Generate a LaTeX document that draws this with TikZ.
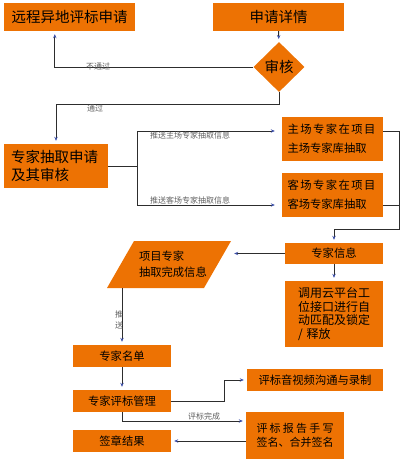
\documentclass[tikz,border=0pt]{standalone}
\usepackage{fontspec}
\newfontfamily\cjk{Noto Sans CJK SC}
\usetikzlibrary{shapes.geometric,arrows.meta,calc}
\definecolor{org}{RGB}{237,114,3}
\definecolor{tipblue}{RGB}{60,80,170}
\definecolor{ln}{RGB}{45,45,45}
\definecolor{lbl}{RGB}{95,95,95}
\begin{document}
\begin{tikzpicture}[x=1pt,y=-1pt,
 box/.style={fill=org,inner sep=0pt,font=\cjk\fontsize{11.3}{14}\selectfont,text=black},
 bigbox/.style={box,font=\cjk\fontsize{14.5}{18}\selectfont},
 conn/.style={draw=ln,line width=0.9pt},
 arr/.style={conn,-{Stealth[length=4pt,width=3.4pt,color=tipblue]},shorten >=3pt},
 lab/.style={font=\cjk\fontsize{8}{10}\selectfont,text=lbl,inner sep=0pt}]
\useasboundingbox (0,0) rectangle (404,462);
% parallelogram body
\fill[org] (134,241) -- (231,241) -- (204,288) -- (107,288) -- cycle;
% nodes
\node[bigbox,minimum width=131pt,minimum height=28pt] (A) at (69.5,17) {远程异地评标申请};
\node[bigbox,minimum width=131pt,minimum height=28pt] (B) at (278.5,17) {申请详情};
\node[bigbox,shape=diamond,minimum width=51pt,minimum height=50pt] (C) at (279,67) {审核};
\node[bigbox,minimum width=104pt,minimum height=44pt,text width=90pt,align=left] (D) at (56,166) {专家抽取申请\\及其审核};
\node[box,minimum width=101pt,minimum height=44pt,text width=90pt,align=left,font=\cjk\fontsize{11.3}{19}\selectfont] (E) at (332.5,139)
 {\makebox[88pt][s]{主\hfill 场\hfill 专\hfill 家\hfill 在\hfill 项\hfill 目}\\主场专家库抽取};
\node[box,minimum width=101pt,minimum height=44pt,text width=90pt,align=left,font=\cjk\fontsize{11.3}{19}\selectfont] (F) at (332.5,195)
 {\makebox[88pt][s]{客\hfill 场\hfill 专\hfill 家\hfill 在\hfill 项\hfill 目}\\客场专家库抽取};
\node[box,minimum width=98pt,minimum height=21pt] (G) at (334,253.5) {专家信息};
\node[box,minimum width=98pt,minimum height=66pt,text width=72pt,align=left,font=\cjk\fontsize{12}{13.5}\selectfont] (N) at (334,314)
 {调用云平台工\\位接口进行自\\动匹配及锁定\\/ 释放};
\node[inner sep=0pt,minimum width=116pt,minimum height=47pt,text width=68pt,align=left,font=\cjk\fontsize{11.3}{16}\selectfont] (P) at (173,264.5)
 {项目专家\\抽取完成信息};
\node[box,minimum width=98pt,minimum height=22pt] (I) at (122,356) {专家名单};
\node[box,minimum width=98pt,minimum height=22pt] (J) at (122,401) {专家评标管理};
\node[box,minimum width=98pt,minimum height=22pt] (K) at (122,441) {签章结果};
\node[box,minimum width=136pt,minimum height=22pt] (L) at (315,380) {评标音视频沟通与录制};
\node[box,minimum width=98pt,minimum height=47pt,text width=77pt,align=left,font=\cjk\fontsize{11}{14}\selectfont] (M) at (295,435.5)
 {\makebox[77pt][s]{评\hfill 标\hfill 报\hfill 告\hfill 手\hfill 写}\\签名、合并签名};
% connectors
\draw[arr] (B) -- (C);
\draw[arr] (C.west) -| ([xshift=51pt]A.south west);
\node[lab] (l1) at (98,66) {不通过};
\draw[arr] (C.south) -- ++(0,12) -| (D.north);
\node[lab] (l2) at (95,108.5) {通过};
\draw[conn] (D.east) -- ++(29,0);
\draw[arr,shorten >=7pt] ([xshift=29pt]D.east) |- ([yshift=8pt]E.west);
\draw[arr,shorten >=7pt] ([xshift=29pt]D.east) |- ([yshift=-10pt]F.west);
\node[lab] (l3) at (190,135) {推送主场专家抽取信息};
\node[lab] (l4) at (190,200) {推送客场专家抽取信息};
\draw[arr] ([yshift=8pt]E.east) -- ++(16,0) -- ++(0,98) -| (G.north);
\draw[conn] ([yshift=-10pt]F.east) -- ++(16,0);
\draw[arr] (G.west) -- (G.west -| P.east);
\draw[arr] (G) -- (N);
\draw[arr] (P.south -| I.north) -- (I.north);
\node[lab,align=center,font=\cjk\fontsize{8}{11}\selectfont] (l5) at (119,319.5) {推\\送};
\draw[arr] (I) -- (J);
\draw[arr] (J.east) -- ++(53,0) |- (L.west);
\draw[arr] (J.south) |- ([yshift=14.5pt]M.west);
\node[lab] (l6) at (204,416) {评标完成};
\draw[arr] (K.east -| M.west) -- (K.east);
\end{tikzpicture}
\end{document}
